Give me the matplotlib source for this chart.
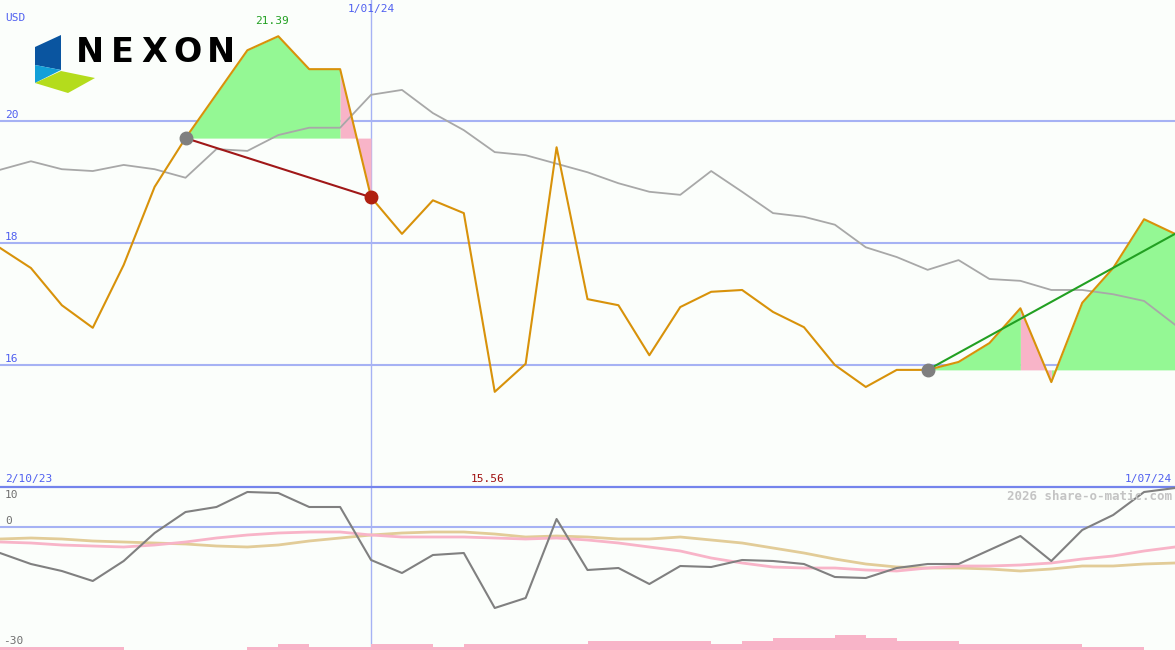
import matplotlib
matplotlib.use("Agg")
import numpy as np
import matplotlib.pyplot as plt
from matplotlib.patches import Polygon

plt.rcParams["font.family"] = "DejaVu Sans Mono"
plt.rcParams["font.size"] = 8

W, H = 1175, 650

# weekly closing price (USD) and its moving average
price = [17.92, 17.59, 16.98, 16.61, 17.64, 18.92, 19.72, 20.44, 21.16, 21.39,
         20.85, 20.85, 18.75, 18.15, 18.70, 18.49, 15.56, 16.02, 19.57, 17.08,
         16.98, 16.16, 16.95, 17.20, 17.23, 16.87, 16.62, 16.00, 15.64, 15.92,
         15.92, 16.05, 16.36, 16.93, 15.72, 17.02, 17.59, 18.39, 18.15]
avg = [19.20, 19.34, 19.21, 19.18, 19.28, 19.21, 19.07, 19.54, 19.51, 19.77,
       19.89, 19.89, 20.43, 20.51, 20.13, 19.85, 19.49, 19.44, 19.30, 19.16,
       18.98, 18.84, 18.79, 19.18, 18.84, 18.49, 18.43, 18.30, 17.93, 17.77,
       17.56, 17.72, 17.41, 17.38, 17.23, 17.23, 17.16, 17.05, 16.66]

# lower indicator panel
momentum = [-6.5, -9.25, -11, -13.5, -8.5, -1.5, 3.75, 5, 8.75, 8.5,
            5, 5, -8.25, -11.5, -7, -6.5, -20.25, -17.75, 2, -10.75,
            -10.25, -14.25, -9.75, -10, -8.25, -8.5, -9.25, -12.5, -12.75, -10.25,
            -9.25, -9.25, -5.75, -2.25, -8.5, -0.75, 3, 8.75, 9.75]
pink_sig = [-3.75, -4, -4.5, -4.75, -5, -4.5, -3.75, -2.75, -2, -1.5,
            -1.25, -1.25, -2, -2.5, -2.5, -2.5, -2.75, -3, -2.75, -3.25,
            -4, -5, -6, -7.75, -9, -10, -10.25, -10.25, -10.75, -11,
            -10.25, -9.75, -9.75, -9.5, -9, -8, -7.25, -6, -5]
tan_sig = [-3, -2.75, -3, -3.5, -3.75, -4, -4.25, -4.75, -5, -4.5,
           -3.5, -2.75, -2, -1.5, -1.25, -1.25, -1.75, -2.5, -2.25, -2.5,
           -3, -3, -2.5, -3.25, -4, -5.25, -6.5, -8, -9.25, -10,
           -10.25, -10.25, -10.5, -11, -10.5, -9.75, -9.75, -9.25, -9]
volume = [1, 1, 1, 1, 0, 0, 0, 0, 1, 2, 1, 1, 2, 2, 1, 2, 2, 2, 2, 3,
          3, 3, 3, 2, 3, 4, 4, 5, 4, 3, 3, 2, 2, 2, 2, 1, 1, 0, 0]

start_label, mid_label, end_label = "2/10/23", "1/01/24", "1/07/24"
mid_idx = 12
trades = [(6, 12, "#a01818", "#7f7f7f", "#b02010"), (30, 38, "#22a022", "#7f7f7f", None)]
green_spans = [(6, 11, 6), (30, 33, 30), (34, 38, 30)]
pink_spans = [(11, 12, 6), (33, 34, 30)]
price_ticks = [16, 18, 20]

x = np.arange(len(price))
price = np.array(price)

bg = "#fbfefb"
grid_c = "#a6b2f4"
blue_txt = "#5060f0"

fig = plt.figure(figsize=(W / 100, H / 100), dpi=100, facecolor=bg)
ax = fig.add_axes([0, 163 / H, 1, 487 / H])
ax2 = fig.add_axes([0, 0, 1, 163 / H])
for a in (ax, ax2):
    a.set_facecolor(bg)
    a.set_xlim(0, len(price) - 1)
    a.set_xticks([])
    a.set_yticks([])
    for s in a.spines.values():
        s.set_visible(False)
ax.set_ylim(14.0, 21.984)
ax2.set_ylim(-30.75, 10)

# grid
for t in price_ticks:
    ax.axhline(t, color=grid_c, lw=1.5, zorder=1)
    ax.annotate(str(t), xy=(0, t), xycoords=("axes fraction", "data"),
                xytext=(5, 1), textcoords="offset pixels", color=blue_txt, va="bottom")
ax.axvline(mid_idx, color=grid_c, lw=1, zorder=1)
ax2.axvline(mid_idx, color=grid_c, lw=1, zorder=1)
ax2.axhline(0, color=grid_c, lw=1.5, zorder=1)
ax2.spines["top"].set_visible(True)
ax2.spines["top"].set_color("#7484ec")
ax2.spines["top"].set_linewidth(1.6)

# holding-period fills
for a, b, base in green_spans:
    xs = x[a:b + 1]
    ax.fill_between(xs, price[a:b + 1], price[base], color="#94f894", lw=0, zorder=2)
for a, b, base in pink_spans:
    xs = x[a:b + 1]
    ax.fill_between(xs, price[a:b + 1], price[base], color="#f8b4c8", lw=0, zorder=2)

ax.plot(x, avg, color="#a8a8a8", lw=1.3, zorder=3)
ax.plot(x, price, color="#d8920a", lw=1.5, zorder=4)

for a, b, lc, mc_start, mc_end in trades:
    ax.plot([a, b], [price[a], price[b]], color=lc, lw=1.5, zorder=5)
    ax.plot(a, price[a], "o", color=mc_start, ms=9, zorder=6)
    if mc_end:
        ax.plot(b, price[b], "o", color=mc_end, ms=9, zorder=6)

imax = int(np.argmax(price))
imin = int(np.argmin(price))

# lower panel
ax2.bar(x, np.array(volume) * 0.75, width=1, align="edge", bottom=-30.75,
        color="#f8b4c8", lw=0, zorder=1)
ax2.plot(x, tan_sig, color="#e2cc98", lw=2, zorder=2)
ax2.plot(x, pink_sig, color="#f8b4c8", lw=2, zorder=3)
ax2.plot(x, momentum, color="#808080", lw=1.5, zorder=4)


def px(xp, yp):
    return xp / W, 1 - yp / H


fig.text(*px(5, 18), "USD", color=blue_txt, va="center")
fig.text(*px(371, 9), mid_label, color=blue_txt, va="center", ha="center")
fig.text(*px(ax.transData.transform((imax, 0))[0] - 6, 21), f"{price[imax]:.2f}",
         color="#22a022", va="center", ha="center")
fig.text(*px(ax.transData.transform((imin, 0))[0] - 7, 479), f"{price[imin]:.2f}",
         color="#a01010", va="center", ha="center")
fig.text(*px(5, 479), start_label, color=blue_txt, va="center")
fig.text(*px(1172, 479), end_label, color=blue_txt, va="center", ha="right")
fig.text(*px(5, 495), "10", color="#707070", va="center")
fig.text(*px(5, 521), "0", color="#707070", va="center")
fig.text(*px(3, 641), "-30", color="#707070", va="center")
fig.text(*px(1172, 496), "2026 share-o-matic.com", color="#c4c4c4", va="center",
         ha="right", fontsize=9, fontweight="bold")

# logo
def poly(pts, c):
    fig.patches.append(Polygon([px(*p) for p in pts], closed=True, color=c,
                               transform=fig.transFigure, lw=0))


poly([(35, 47), (61, 35), (61, 70), (35, 65)], "#0a55a0")
poly([(35, 65), (61, 70), (35, 83)], "#12a0d8")
poly([(35, 83), (61, 71), (95, 78), (68, 93)], "#b4dc1c")
for ch, cx in zip("NEXON", [89.5, 122.5, 154, 187.5, 221]):
    fig.text(*px(cx, 53), ch, color="black", ha="center", va="center",
             fontsize=24, fontweight="bold", family="DejaVu Sans")

fig.savefig("out.png", dpi=100, facecolor=bg)
